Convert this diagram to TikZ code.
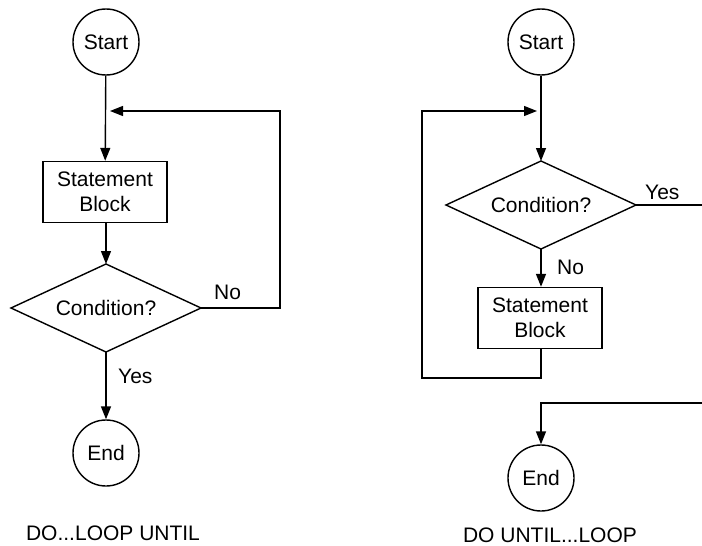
\documentclass[tikz,border=0pt]{standalone}
\usepackage{fontspec}
\setmainfont{Liberation Sans}
\usetikzlibrary{arrows.meta}
\tikzset{
  x=1pt, y=-1pt,
  every node/.style={font=\fontsize{21}{25}\selectfont, text=black},
  term/.style={circle, draw, line width=1.4pt, minimum size=66pt, inner sep=0pt},
  block/.style={rectangle, draw, line width=1.4pt, minimum width=124pt, minimum height=61pt, inner sep=0pt, align=center},
  % decision node: a box whose compass anchors are the diamond's corners
  dec/.style={rectangle, minimum width=190pt, minimum height=88pt, inner sep=0pt, outer sep=0pt},
  flow/.style={line width=1.4pt},
  arr/.style={flow, -{Triangle[length=13pt,width=10pt]}},
  lbl/.style={anchor=west, inner sep=0pt},
  caption/.style={inner sep=0pt}
}
\newcommand{\drawdiamond}[1]{\draw[flow, line join=miter] (#1.north) -- (#1.east) -- (#1.south) -- (#1.west) -- cycle;}
\begin{document}
\begin{tikzpicture}
\useasboundingbox (0,0) rectangle (702,546);

% DO...LOOP UNTIL
\node[term]  (s1) at (106,42)  {Start};
\node[block] (b1) at (105,192) {Statement\\Block};
\node[dec]   (d1) at (106,308) {Condition?};
\drawdiamond{d1}
\node[term]  (e1) at (106,453) {End};
\coordinate (j1) at (110,111);
\coordinate (r1) at (280,111);

\draw[arr] (s1) -- (b1);
\draw[arr] (b1.south -| d1.north) -- (d1.north);
\draw[arr] (d1.east) -| (r1) -- (j1);
\draw[arr] (d1.south) -- (e1);
\node[lbl] at (214,292) {No};
\node[lbl] at (118,376) {Yes};
\node[caption] at (113,533) {DO...LOOP UNTIL};

% DO UNTIL...LOOP
\node[term]  (s2) at (541,42)  {Start};
\node[dec]   (d2) at (541,205) {Condition?};
\drawdiamond{d2}
\node[block] (b2) at (540,318) {Statement\\Block};
\node[term]  (e2) at (541,478) {End};
\coordinate (j2) at (537,111);
\coordinate (l2) at (422,378);
\coordinate (y2) at (702,205);
\coordinate (x2) at (702,403);

\draw[arr] (s2) -- (d2.north);
\draw[arr] (d2.south) -- (b2.north -| d2.south);
\draw[arr] (b2.south -| d2.south) |- (l2) |- (j2);
\draw[flow] (d2.east) -- (y2);
\draw[arr] (x2) -| (e2);
\node[lbl] at (645,192) {Yes};
\node[lbl] at (557,267) {No};
\node[caption] at (550,535) {DO UNTIL...LOOP};
\end{tikzpicture}
\end{document}
